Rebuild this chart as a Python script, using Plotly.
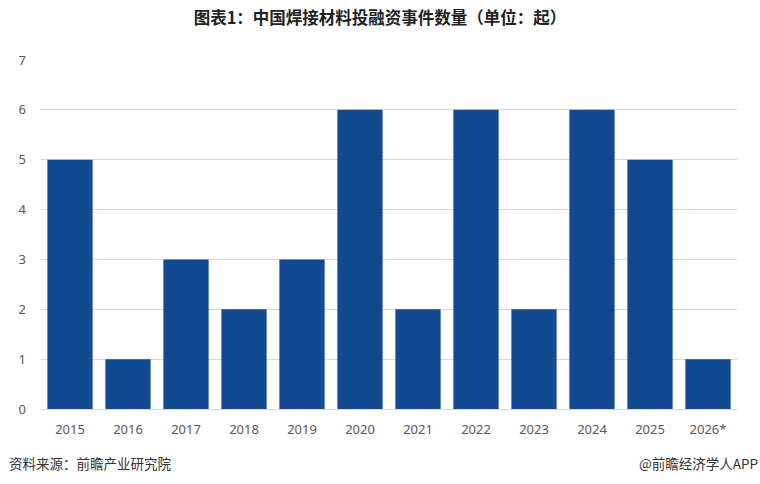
import plotly.graph_objects as go

years = ["2015", "2016", "2017", "2018", "2019", "2020", "2021", "2022", "2023", "2024", "2025", "2026*"]
counts = [5, 1, 3, 2, 3, 6, 2, 6, 2, 6, 5, 1]
y_ticks = [0, 1, 2, 3, 4, 5, 6, 7]

title_text = "图表1：中国焊接材料投融资事件数量（单位：起）"
source_text = "资料来源：前瞻产业研究院"
brand_text = "@前瞻经济学人APP"

fig = go.Figure()
fig.add_trace(go.Bar(
    x=years, y=counts,
    marker=dict(color="#114a91", line=dict(width=0)),
    hoverinfo="x+y",
))

fig.update_layout(
    width=760, height=484,
    margin=dict(l=41, r=23, t=60, b=75),
    paper_bgcolor="white", plot_bgcolor="white",
    bargap=0.22,
    showlegend=False,
    font=dict(family="Noto Sans CJK SC, Noto Sans, sans-serif", color="#595959", size=13),
    title=dict(
        text=title_text, x=0.5, xanchor="center", y=0.962, yanchor="middle",
        font=dict(family="Noto Sans CJK SC", size=16.5, color="#222222", weight="bold"),
    ),
    xaxis=dict(
        type="category", showgrid=False, zeroline=False,
        showline=True, linecolor="#d9d9d9", linewidth=1,
        ticks="", ticklabelstandoff=8,
        tickfont=dict(family="Noto Sans, sans-serif", size=13, color="#595959"),
    ),
    yaxis=dict(
        range=[0, 7], tickvals=y_ticks, showgrid=True, gridcolor="#d9d9d9", gridwidth=1,
        zeroline=False, showline=False, ticks="", ticklabelstandoff=14,
        tickfont=dict(family="Noto Sans, sans-serif", size=13, color="#595959"),
    ),
    annotations=[
        dict(text=source_text, xref="paper", yref="paper", x=-34/696, y=-0.155, xanchor="left", yanchor="middle",
             showarrow=False, font=dict(family="Noto Sans CJK SC", size=13.5, color="#333333")),
        dict(text=brand_text, xref="paper", yref="paper", x=(760-41)/696, y=-0.155, xanchor="right", yanchor="middle",
             showarrow=False, font=dict(family="Noto Sans CJK SC", size=13.5, color="#333333")),
    ],
)

fig.write_html("out.html")
